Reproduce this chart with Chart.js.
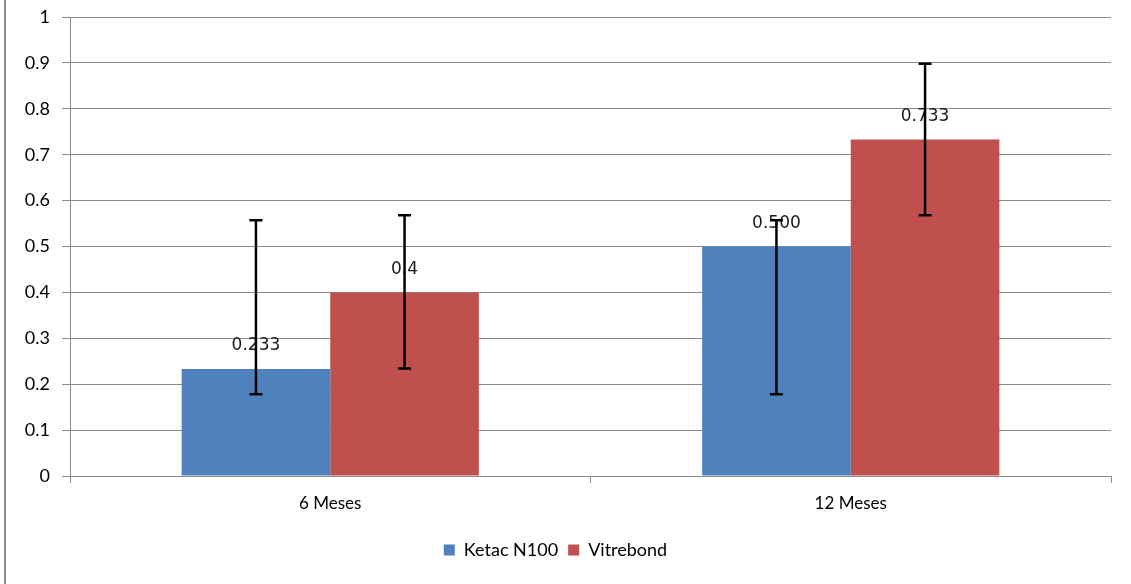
<!DOCTYPE html>
<html>
<head>
<meta charset="utf-8">
<script src="https://cdn.jsdelivr.net/npm/chart.js@4/dist/chart.umd.min.js"></script>
<style>
  html, body { margin: 0; padding: 0; background: #fff; }
  #wrap { position: relative; width: 1131px; height: 584px; }
</style>
</head>
<body>
<div id="wrap"><canvas id="c"></canvas></div>
<script>
// data
const categories = ['6 Meses', '12 Meses'];
const seriesNames = ['Ketac N100', 'Vitrebond'];
const ketacValues = [0.233, 0.5];
const vitreValues = [0.4, 0.733];
const ketacLabels = ['0.233', '0.500'];
const vitreLabels = ['0.4', '0.733'];
const ketacErrLow = [0.178, 0.178];
const ketacErrHigh = [0.557, 0.557];
const vitreErrLow = [0.234, 0.568];
const vitreErrHigh = [0.568, 0.898];
const yTicks = [0, 0.1, 0.2, 0.3, 0.4, 0.5, 0.6, 0.7, 0.8, 0.9, 1];

const GRID = '#8a8a8a';

// value labels + error bars, drawn after the bars
const overlay = {
  id: 'overlay',
  beforeDraw(chart) {
    const ctx = chart.ctx;
    ctx.save();
    ctx.fillStyle = '#8c8c8c';
    ctx.fillRect(4, 0, 2, chart.height);
    ctx.restore();
  },
  afterDatasetsDraw(chart) {
    const ctx = chart.ctx;
    const y = chart.scales.y;
    const labels = [ketacLabels, vitreLabels];
    const lows = [ketacErrLow, vitreErrLow];
    const highs = [ketacErrHigh, vitreErrHigh];
    ctx.save();
    ctx.font = '17px "DejaVu Sans"';
    ctx.fillStyle = '#1a1a1a';
    ctx.textAlign = 'center';
    ctx.textBaseline = 'middle';
    chart.data.datasets.forEach((ds, i) => {
      chart.getDatasetMeta(i).data.forEach((bar, j) => {
        ctx.fillText(labels[i][j], bar.x, bar.y - 23);
      });
    });
    ctx.strokeStyle = '#000';
    ctx.lineWidth = 2.5;
    chart.data.datasets.forEach((ds, i) => {
      chart.getDatasetMeta(i).data.forEach((bar, j) => {
        const yl = y.getPixelForValue(lows[i][j]);
        const yh = y.getPixelForValue(highs[i][j]);
        ctx.beginPath();
        ctx.moveTo(bar.x, yl); ctx.lineTo(bar.x, yh);
        ctx.moveTo(bar.x - 6.5, yl); ctx.lineTo(bar.x + 6.5, yl);
        ctx.moveTo(bar.x - 6.5, yh); ctx.lineTo(bar.x + 6.5, yh);
        ctx.stroke();
      });
    });
    ctx.restore();
  }
};

new Chart(document.getElementById('c'), {
  type: 'bar',
  data: {
    labels: categories,
    datasets: [
      { label: seriesNames[0], data: ketacValues, backgroundColor: '#4F81BD' },
      { label: seriesNames[1], data: vitreValues, backgroundColor: '#C0504D' },
    ],
  },
  options: {
    responsive: true,
    maintainAspectRatio: false,
    animation: false,
    datasets: { bar: { categoryPercentage: 0.571, barPercentage: 1 } },
    layout: { padding: { top: 17, right: 20, bottom: 15, left: 0 } },
    plugins: {
      tooltip: { enabled: false },
      legend: {
        position: 'bottom',
        labels: {
          boxWidth: 11, boxHeight: 11, padding: 10,
          color: '#000',
          font: { family: 'Lato', size: 18 },
        },
      },
    },
    scales: {
      x: {
        grid: { drawOnChartArea: false, drawTicks: true, tickLength: 7, color: GRID },
        border: { color: GRID },
        ticks: { color: '#000', font: { family: 'Lato', size: 17 }, padding: 10 },
        afterFit(s) { s.height = 55; },
      },
      y: {
        min: 0, max: 1,
        afterBuildTicks(s) { s.ticks = yTicks.map(v => ({ value: v })); },
        grid: { color: GRID, tickLength: 8 },
        border: { color: GRID },
        ticks: {
          color: '#000', font: { family: 'Lato', size: 18 }, padding: 12,
          callback: v => String(v),
        },
        afterFit(s) { s.width = 70; s.paddingTop = 0; s.paddingBottom = 0; },
      },
    },
  },
  plugins: [overlay],
});
</script>
</body>
</html>
